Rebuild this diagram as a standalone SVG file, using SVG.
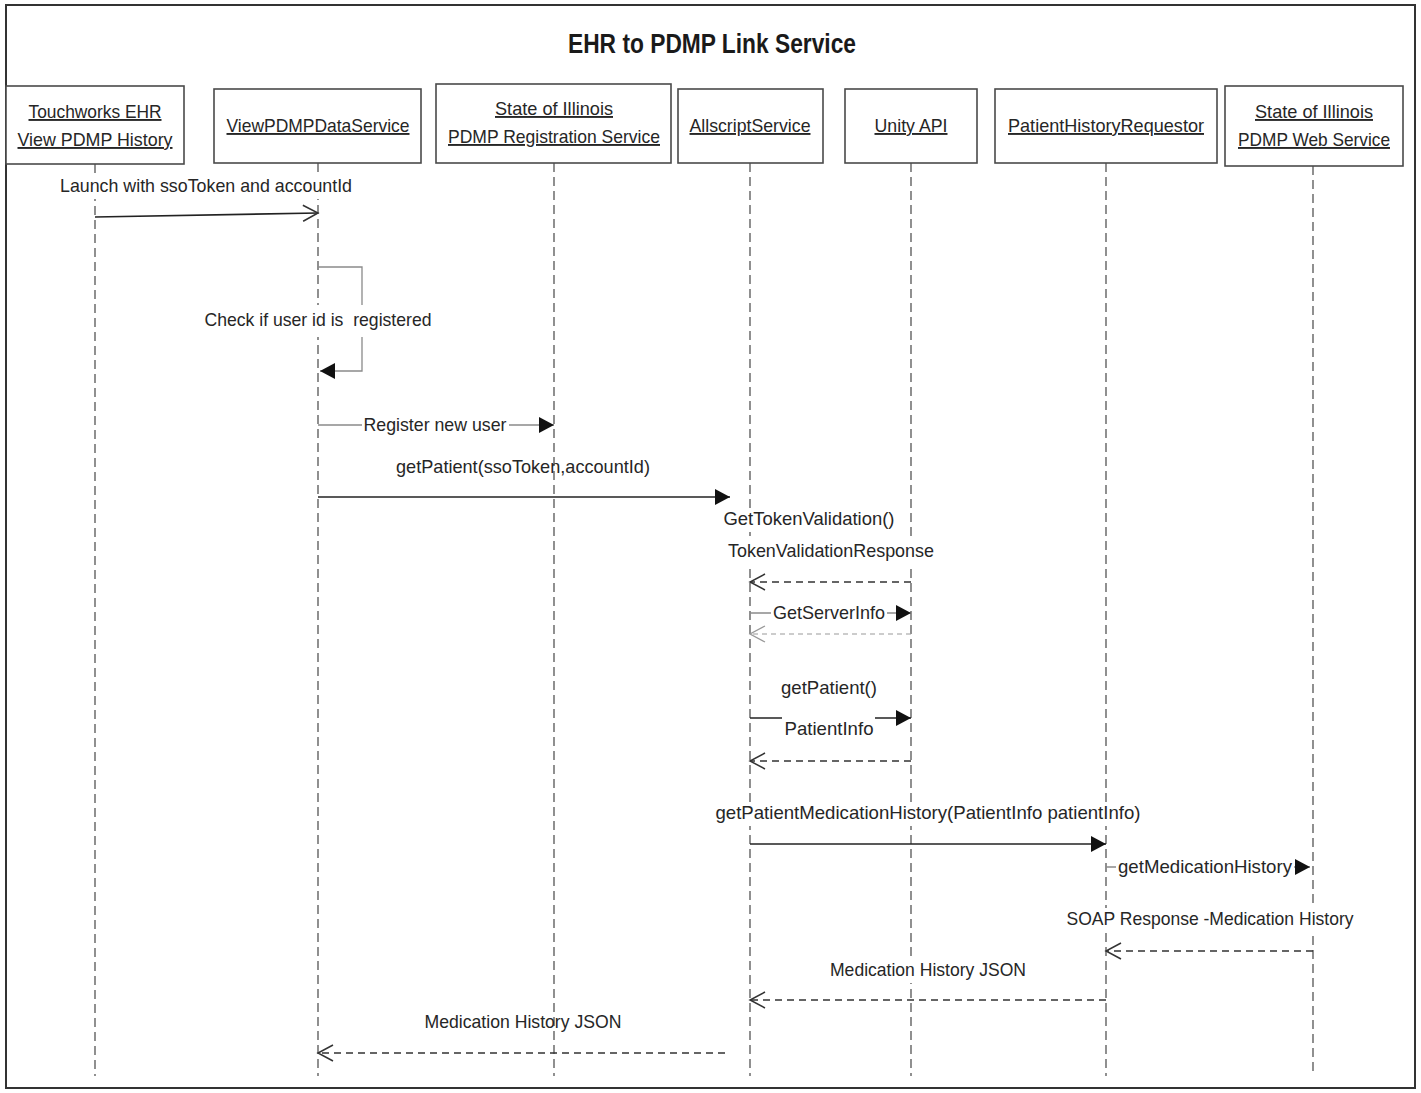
<svg xmlns="http://www.w3.org/2000/svg" width="1421" height="1093" viewBox="0 0 1421 1093">
<style>
text{font-family:"Liberation Sans Narrow","Liberation Sans",Arial,sans-serif;font-size:19px;fill:#262626}
.title{font-size:27px;font-weight:bold;fill:#1a1a1a}
.lbl{text-anchor:middle;text-decoration:underline}
.box{fill:#fff;stroke:#4a4a4a;stroke-width:1.6}
.life{stroke:#555;stroke-width:1.3;stroke-dasharray:9 5;fill:none}
.solid{stroke:#222;stroke-width:1.6;fill:none}
.thin{stroke:#8a8a8a;stroke-width:1.3;fill:none}
.dash{stroke:#333;stroke-width:1.4;stroke-dasharray:7 5;fill:none}
.dashl{stroke:#999;stroke-width:1.2;stroke-dasharray:5 4;fill:none}
.bg{fill:#fff}
.m{text-anchor:middle}
</style>
<defs>
<marker id="open" markerUnits="userSpaceOnUse" markerWidth="20" markerHeight="20" viewBox="-16 -10 20 20" refX="0" refY="0" orient="auto">
<polyline points="-15,-8 0,0 -15,8" fill="none" stroke="#333" stroke-width="1.5"/>
</marker>
<marker id="openl" markerUnits="userSpaceOnUse" markerWidth="20" markerHeight="20" viewBox="-16 -10 20 20" refX="0" refY="0" orient="auto">
<polyline points="-15,-8 0,0 -15,8" fill="none" stroke="#999" stroke-width="1.3"/>
</marker>
<marker id="fill" markerUnits="userSpaceOnUse" markerWidth="20" markerHeight="20" viewBox="-16 -10 20 20" refX="0" refY="0" orient="auto">
<polygon points="-15,-8 0,0 -15,8" fill="#111"/>
</marker>
</defs>
<rect x="6" y="5" width="1409" height="1083" fill="#fff" stroke="#333" stroke-width="2"/>
<text class="title m" x="712" y="53" textLength="288" lengthAdjust="spacingAndGlyphs">EHR to PDMP Link Service</text>

<g id="node-touchworks">
<line class="life" x1="95" y1="164" x2="95" y2="1076"/>
<rect class="box" x="6" y="86" width="178" height="78"/>
<text class="lbl" x="95" y="118" textLength="133" lengthAdjust="spacingAndGlyphs">Touchworks EHR</text>
<text class="lbl" x="95" y="146" textLength="155" lengthAdjust="spacingAndGlyphs">View PDMP History</text>
</g>
<g id="node-viewpdmp">
<line class="life" x1="318" y1="163" x2="318" y2="1076"/>
<rect class="box" x="214" y="89" width="207" height="74"/>
<text class="lbl" x="318" y="132" textLength="183" lengthAdjust="spacingAndGlyphs">ViewPDMPDataService</text>
</g>
<g id="node-registration">
<line class="life" x1="554" y1="163" x2="554" y2="1076"/>
<rect class="box" x="436" y="84" width="235" height="79"/>
<text class="lbl" x="554" y="115" textLength="118" lengthAdjust="spacingAndGlyphs">State of Illinois</text>
<text class="lbl" x="554" y="143" textLength="212" lengthAdjust="spacingAndGlyphs">PDMP Registration Service</text>
</g>
<g id="node-allscript">
<line class="life" x1="750" y1="163" x2="750" y2="1076"/>
<rect class="box" x="678" y="89" width="145" height="74"/>
<text class="lbl" x="750" y="132" textLength="121" lengthAdjust="spacingAndGlyphs">AllscriptService</text>
</g>
<g id="node-unity">
<line class="life" x1="911" y1="163" x2="911" y2="1076"/>
<rect class="box" x="845" y="89" width="132" height="74"/>
<text class="lbl" x="911" y="132" textLength="73" lengthAdjust="spacingAndGlyphs">Unity API</text>
</g>
<g id="node-requestor">
<line class="life" x1="1106" y1="163" x2="1106" y2="1076"/>
<rect class="box" x="995" y="89" width="222" height="74"/>
<text class="lbl" x="1106" y="132" textLength="196" lengthAdjust="spacingAndGlyphs">PatientHistoryRequestor</text>
</g>
<g id="node-webservice">
<line class="life" x1="1313" y1="166" x2="1313" y2="1076"/>
<rect class="box" x="1225" y="86" width="178" height="80"/>
<text class="lbl" x="1314" y="118" textLength="118" lengthAdjust="spacingAndGlyphs">State of Illinois</text>
<text class="lbl" x="1314" y="146" textLength="152" lengthAdjust="spacingAndGlyphs">PDMP Web Service</text>
</g>

<g id="connectors">
<line class="solid" x1="95" y1="217" x2="318" y2="213" marker-end="url(#open)"/>
<rect class="bg" x="57" y="175" width="298" height="24"/>
<text class="m" x="206" y="192" textLength="292" lengthAdjust="spacingAndGlyphs">Launch with ssoToken and accountId</text>

<polyline class="thin" points="318,267 362,267 362,371 320,371" marker-end="url(#fill)"/>
<rect class="bg" x="200" y="305" width="236" height="32"/>
<text class="m" x="318" y="326" xml:space="preserve" textLength="227" lengthAdjust="spacingAndGlyphs">Check if user id is  registered</text>

<line class="thin" x1="318" y1="425" x2="554" y2="425" marker-end="url(#fill)"/>
<rect class="bg" x="362" y="412" width="147" height="26"/>
<text class="m" x="435" y="431" textLength="143" lengthAdjust="spacingAndGlyphs">Register new user</text>

<line class="solid" x1="318" y1="497" x2="730" y2="497" marker-end="url(#fill)"/>
<text class="m" x="523" y="473" textLength="254" lengthAdjust="spacingAndGlyphs">getPatient(ssoToken,accountId)</text>

<rect class="bg" x="721" y="508" width="177" height="24"/>
<text class="m" x="809" y="525" textLength="171" lengthAdjust="spacingAndGlyphs">GetTokenValidation()</text>
<rect class="bg" x="725" y="540" width="212" height="24"/>
<text class="m" x="831" y="557" textLength="206" lengthAdjust="spacingAndGlyphs">TokenValidationResponse</text>
<line class="dash" x1="911" y1="582" x2="750" y2="582" marker-end="url(#open)"/>

<line class="thin" x1="750" y1="613" x2="911" y2="613" marker-end="url(#fill)"/>
<rect class="bg" x="771" y="601" width="116" height="25"/>
<text class="m" x="829" y="619" textLength="112" lengthAdjust="spacingAndGlyphs">GetServerInfo</text>
<line class="dashl" x1="911" y1="634" x2="750" y2="634" marker-end="url(#openl)"/>

<text class="m" x="829" y="694" textLength="96" lengthAdjust="spacingAndGlyphs">getPatient()</text>
<line class="solid" x1="750" y1="718" x2="911" y2="718" marker-end="url(#fill)"/>
<rect class="bg" x="782" y="713" width="93" height="28"/>
<text class="m" x="829" y="735" textLength="89" lengthAdjust="spacingAndGlyphs">PatientInfo</text>
<line class="dash" x1="911" y1="761" x2="750" y2="761" marker-end="url(#open)"/>

<line class="solid" x1="750" y1="844" x2="1106" y2="844" marker-end="url(#fill)"/>
<rect class="bg" x="712" y="802" width="431" height="24"/>
<text class="m" x="928" y="819" textLength="425" lengthAdjust="spacingAndGlyphs">getPatientMedicationHistory(PatientInfo patientInfo)</text>

<line class="thin" x1="1106" y1="867" x2="1310" y2="867" marker-end="url(#fill)"/>
<rect class="bg" x="1116" y="855" width="178" height="25"/>
<text class="m" x="1205" y="873" textLength="174" lengthAdjust="spacingAndGlyphs">getMedicationHistory</text>

<rect class="bg" x="1063" y="908" width="293" height="24"/>
<text class="m" x="1210" y="925" textLength="287" lengthAdjust="spacingAndGlyphs">SOAP Response -Medication History</text>
<line class="dash" x1="1313" y1="951" x2="1106" y2="951" marker-end="url(#open)"/>

<rect class="bg" x="827" y="959" width="202" height="24"/>
<text class="m" x="928" y="976" textLength="196" lengthAdjust="spacingAndGlyphs">Medication History JSON</text>
<line class="dash" x1="1106" y1="1000" x2="750" y2="1000" marker-end="url(#open)"/>

<text class="m" x="523" y="1028" textLength="197" lengthAdjust="spacingAndGlyphs">Medication History JSON</text>
<line class="dash" x1="725" y1="1053" x2="318" y2="1053" marker-end="url(#open)"/>
</g>
</svg>
